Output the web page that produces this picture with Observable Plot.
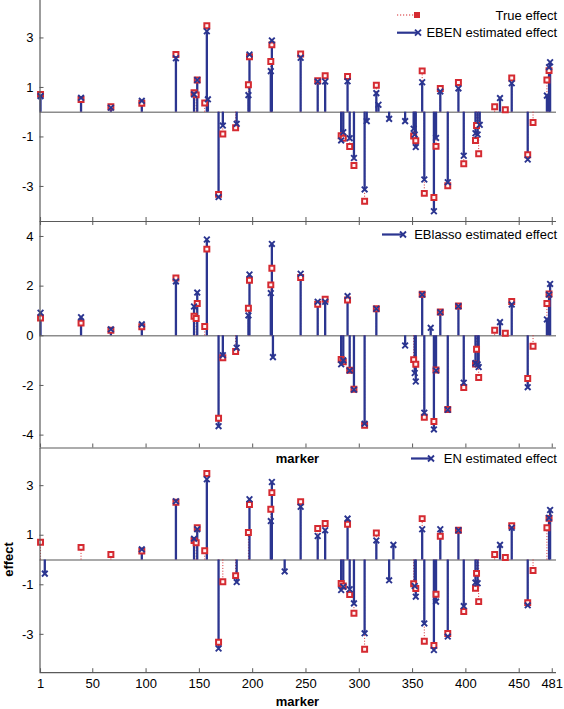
<!DOCTYPE html>
<html>
<head>
<meta charset="utf-8">
<script src="https://cdn.jsdelivr.net/npm/d3@7"></script>
<script src="https://cdn.jsdelivr.net/npm/@observablehq/plot@0.6"></script>
<style>
  body { margin: 0; background: white; }
  #wrap { position: relative; width: 564px; height: 709px; overflow: hidden; background: white; }
  #wrap svg { position: absolute; left: 0; overflow: visible; }
</style>
</head>
<body>
<div id="wrap"></div>
<script>
// ---- data ----
const markers       = [1, 5, 39, 67, 96, 128, 145, 147, 148, 155, 157, 158, 168, 172, 184, 185, 196, 197, 217, 218, 219, 230, 245, 261, 268, 283, 285, 289, 291, 295, 305, 307, 316, 318, 328, 332, 343, 351, 352, 353, 359, 361, 367, 370, 372, 376, 383, 393, 398, 409, 410, 411, 412, 413, 427, 432, 437, 443, 458, 463, 476, 478, 479];
const trueEffect    = [0.72, 0, 0.51, 0.22, 0.36, 2.33, 0.79, 0.70, 1.30, 0.37, 3.49, 0, -3.32, -0.88, -0.63, 0, 1.11, 2.24, 2.05, 2.72, 0, 0, 2.35, 1.27, 1.47, -0.95, -1.05, 1.44, -1.39, -2.15, -3.60, 0, 1.09, 0, 0, 0, 0, -0.96, 0, -1.15, 1.67, -3.28, 0, -3.45, -1.38, 0.96, -2.97, 1.20, -2.08, -1.14, -0.54, 0, -1.68, 0, 0.22, 0, 0.10, 1.38, -1.72, -0.42, 1.30, 1.68, 0];
const ebenEffect    = [0.65, 0, 0.58, 0.18, 0.46, 2.18, 0.72, 0, 1.30, 0, 3.27, 0.52, -3.43, -0.54, 0, -0.47, 0.69, 2.33, 1.66, 2.90, 0, 0, 2.20, 1.24, 1.24, -1.14, -0.81, 1.25, -1.05, -1.85, -3.12, -0.36, 0.77, 0.30, -0.27, 0, -0.36, -0.67, -0.90, -1.41, 1.21, -2.72, 0, -4.00, -1.04, 0.84, -2.83, 0.96, -1.76, -0.85, 0, -0.90, 0, -0.51, 0, 0.57, 0, 1.17, -1.91, 0, 0.67, 1.82, 2.02];
const eblassoEffect = [0.93, 0, 0.75, 0.26, 0.46, 2.19, 1.18, 0, 1.74, 0, 3.88, 0, -3.64, -0.78, 0, -0.48, 0.82, 2.47, 1.72, 3.70, -0.86, 0, 2.50, 1.37, 1.37, -1.15, -0.99, 1.60, -1.40, -2.17, -3.54, 0, 1.09, 0, 0, 0, -0.39, 0, -1.50, -1.84, 1.66, -3.10, 0.32, -3.77, -1.40, 0.95, -2.98, 1.19, -1.89, -1.10, 0, -1.15, -1.26, 0, 0, 0.55, 0, 1.26, -2.07, 0, 0.66, 1.66, 2.09];
const enEffect      = [0, -0.55, 0, 0, 0.43, 2.37, 0.86, 0, 1.24, 0, 3.26, 0, -3.57, 0, 0, -0.89, 0, 2.45, 1.57, 3.15, 0, -0.46, 2.15, 0.97, 1.20, -1.21, -1.08, 1.67, -1.18, -1.75, -2.96, 0, 0.79, 0, -0.82, 0.61, 0, 0, -1.05, -1.48, 1.24, -2.56, 0, -3.63, -1.68, 1.24, -3.09, 1.20, -1.86, -0.91, 0, -0.94, 0, 0, 0, 0.61, 0, 1.30, -1.83, 0, 0, 1.70, 2.02];

const xTickLabels = [1, 50, 100, 150, 200, 250, 300, 350, 400, 450, 481];
const yTicksOdd  = [-3, -1, 1, 3];
const yTicksEven = [-4, -2, 0, 2, 4];
const seriesNames = ["True effect", "EBEN estimated effect", "EBlasso estimated effect", "EN estimated effect"];

// ---- styles ----
const navy = "#2b3590";
const red = "#d52a31";
const axisGray = "#5a5a5a";
const font = "13px 'Liberation Sans', Arial, sans-serif";
const W = 564, ML = 39.5, MR = 8;
const xDomain = [0.5, 485];
const kx = (W - ML - MR) / (xDomain[1] - xDomain[0]);

const rows = (vals) => markers.map((m, i) => ({marker: m, value: vals[i]})).filter(d => d.value !== 0);
const truthRows = rows(trueEffect);

function panel({est, yDomain, yTicks, plotH, mb, top, xLabels, topTicks}) {
  const ky = plotH / (yDomain[1] - yDomain[0]);
  const estRows = rows(est);
  const marks = [
    Plot.ruleY([0], {stroke: "#8c8c8c", strokeWidth: 1.5}),
    Plot.ruleX(truthRows, {x: "marker", y1: 0, y2: "value", stroke: red, strokeWidth: 1, strokeDasharray: "1,1.8"}),
    Plot.ruleX(estRows, {x: "marker", y1: 0, y2: "value", stroke: navy, strokeWidth: 2.3}),
    Plot.dot(truthRows, {x: "marker", y: "value", symbol: "square", r: 2.8, stroke: red, fill: "#fff4f4", strokeWidth: 2}),
    Plot.dot(estRows, {x: "marker", y: "value", symbol: "times", r: 2.7, stroke: navy, strokeWidth: 1.9}),
    Plot.ruleX([xDomain[0]], {stroke: axisGray, strokeWidth: 1.2}),
    Plot.ruleY([yDomain[0]], {stroke: axisGray, strokeWidth: 1.2}),
    Plot.ruleY(yTicks, {x1: xDomain[0], x2: xDomain[0] + 4 / kx, stroke: axisGray}),
    Plot.ruleX(xTickLabels, {y1: yDomain[0], y2: yDomain[0] + 4 / ky, stroke: axisGray}),
    Plot.axisY({ticks: yTicks, tickSize: 0, tickPadding: 6.5, tickFormat: d => String(d), label: null})
  ];
  if (topTicks) marks.push(Plot.ruleX(xTickLabels, {y1: yDomain[1], y2: yDomain[1] - 4 / ky, stroke: axisGray}));
  if (xLabels) marks.push(Plot.axisX({ticks: xTickLabels, tickSize: 0, tickPadding: 6, tickFormat: d => String(d), label: null}));
  const svg = Plot.plot({
    width: W,
    height: plotH + mb,
    marginLeft: ML,
    marginRight: MR,
    marginTop: 0,
    marginBottom: mb,
    style: {font, background: "transparent", overflow: "visible"},
    x: {domain: xDomain, axis: null, label: null},
    y: {domain: yDomain, axis: null, label: null},
    marks
  });
  svg.style.top = top + "px";
  return svg;
}

const wrap = document.getElementById("wrap");
wrap.appendChild(panel({est: ebenEffect, yDomain: [-4.416, 4.513], yTicks: yTicksOdd, plotH: 221, mb: 0, top: 0}));
wrap.appendChild(panel({est: eblassoEffect, yDomain: [-4.519, 4.603], yTicks: yTicksEven, plotH: 226.5, mb: 0, top: 221, topTicks: true}));
wrap.appendChild(panel({est: enEffect, yDomain: [-4.548, 4.5], yTicks: yTicksOdd, plotH: 224.2, mb: 37.3, top: 447.5, xLabels: true}));

// ---- overlay: legends and axis titles ----
const ov = d3.create("svg").attr("width", W).attr("height", 709).style("top", "0px")
  .style("font", font).style("pointer-events", "none");
function xMark(g, cx, cy) {
  g.append("path").attr("d", `M${cx-3},${cy-3}L${cx+3},${cy+3}M${cx-3},${cy+3}L${cx+3},${cy-3}`)
    .attr("stroke", navy).attr("stroke-width", 1.9).attr("fill", "none");
}
// True effect
ov.append("line").attr("x1", 397).attr("x2", 414).attr("y1", 15).attr("y2", 15)
  .attr("stroke", red).attr("stroke-width", 1.2).attr("stroke-dasharray", "1.2,1.8");
ov.append("rect").attr("x", 414).attr("y", 12).attr("width", 6).attr("height", 6).attr("fill", red);
ov.append("text").attr("x", 557).attr("y", 20).attr("text-anchor", "end").text(seriesNames[0]);
// estimated-effect legends
const legs = [
  {name: seriesNames[1], x1: 397, x2: 418, y: 32.7, ty: 37.3},
  {name: seriesNames[2], x1: 382, x2: 403, y: 234.5, ty: 239.3},
  {name: seriesNames[3], x1: 411, x2: 431, y: 458.5, ty: 463.3}
];
for (const l of legs) {
  ov.append("line").attr("x1", l.x1).attr("x2", l.x2).attr("y1", l.y).attr("y2", l.y)
    .attr("stroke", navy).attr("stroke-width", 2.2);
  xMark(ov, l.x2, l.y);
  ov.append("text").attr("x", 557).attr("y", l.ty).attr("text-anchor", "end").text(l.name);
}
// axis titles
ov.append("text").attr("x", 297.5).attr("y", 463).attr("text-anchor", "middle").attr("font-weight", "bold").text("marker");
ov.append("text").attr("x", 297.5).attr("y", 706).attr("text-anchor", "middle").attr("font-weight", "bold").text("marker");
ov.append("text").attr("transform", "translate(12.7,559.5) rotate(-90)").attr("text-anchor", "middle").attr("font-weight", "bold").text("effect");
wrap.appendChild(ov.node());
</script>
</body>
</html>
